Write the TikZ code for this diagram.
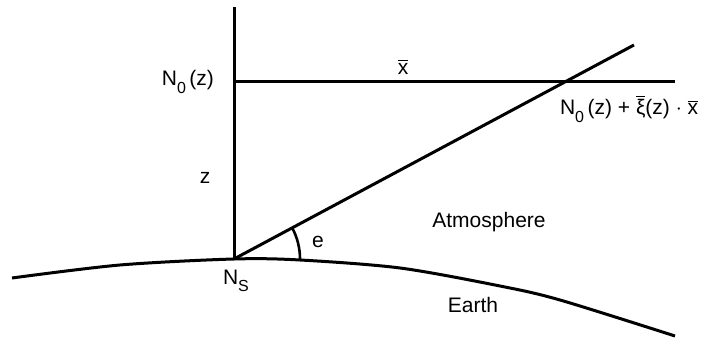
\documentclass[tikz,border=0pt]{standalone}
\usepackage{fontspec}
\setmainfont{Liberation Sans}
\usetikzlibrary{positioning}
\newcommand\ovl[1]{\ensuremath{\overline{\mbox{#1}}}}
\newcommand\lowsub[1]{\raisebox{-.65ex}{\fontsize{8}{9}\selectfont #1}}
\begin{document}
\begin{tikzpicture}[x=.5pt,y=-.5pt,font=\fontsize{10.5}{12}\selectfont,ln/.style={line width=1.5pt}]
\useasboundingbox (0,0) rectangle (723,340);
\coordinate (s) at (234,259);
\coordinate (top) at (234,7);
\coordinate (h0) at (234,82);
\coordinate (h1) at (675,82);
\coordinate (tip) at (634,45);
\draw[ln] (s)--(top);
\draw[ln] (h0)--(h1);
\draw[ln] (s)--(tip);
\draw[ln] plot[smooth] coordinates {(12,278) (120,265) (234,259) (300,260) (400,268) (500,286) (560,300) (675,336)};
\draw[line width=1.3pt] ([shift={(0:66)}]s) arc[start angle=0,end angle=-28.2,radius=66];
\node[anchor=east] (n0) at (221,82) {N\lowsub{0}\,(z)};
\node (xbar) at (403,67) {\ovl{x}};
\node (zlbl) at (205,178) {z};
\node[anchor=west] (nsum) at (553,109) {N\lowsub{0}\,(z) + \ovl{ξ}(z) $\cdot$ \ovl{x}};
\node (atm) at (489,222) {Atmosphere};
\node (ns) at (236,281) {N\lowsub{S}};
\node (ang) at (318,242) {e};
\node (earth) at (473,305) {Earth};
\end{tikzpicture}
\end{document}
